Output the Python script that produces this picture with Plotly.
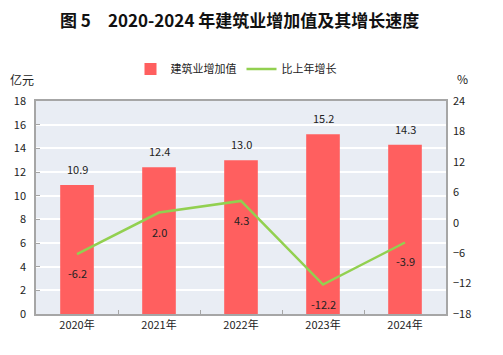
import plotly.graph_objects as go

years = ["2020年", "2021年", "2022年", "2023年", "2024年"]
value_added = [10.9, 12.4, 13.0, 15.2, 14.3]
growth = [-6.2, 2.0, 4.3, -12.2, -3.9]

FONT = "Noto Sans CJK SC"
OFF = 8  # page body margin offset
W, H = 503 - OFF, 355 - OFF
L, R, T, B = 36 - OFF, 57, 101 - OFF, 41
pw = W - L - R
ph = H - T - B


def px_x(px):
    return (px - OFF - L) / pw


def px_y(py):
    return (H - B - (py - OFF)) / ph


fig = go.Figure()
fig.add_trace(go.Bar(
    x=years, y=value_added, name="建筑业增加值",
    marker=dict(color="#ff5f5f", line=dict(width=0)),
    width=0.41,
))
fig.add_trace(go.Scatter(
    x=years, y=growth, name="比上年增长", yaxis="y2",
    mode="lines", line=dict(color="#92d050", width=2.5),
))

annotations = []
for yr, v in zip(years, value_added):
    annotations.append(dict(x=yr, y=v, xref="x", yref="y", text=f"{v:.1f}",
                            showarrow=False, yshift=16,
                            font=dict(size=11, color="#222222")))
for yr, v in zip(years, growth):
    annotations.append(dict(x=yr, y=v, xref="x", yref="y2", text=f"{v:.1f}",
                            showarrow=False, yshift=-19,
                            font=dict(size=11, color="#222222")))
annotations.append(dict(text="亿元", x=px_x(22), y=px_y(79), xref="paper", yref="paper",
                        xanchor="center", yanchor="middle",
                        showarrow=False, font=dict(size=12)))
annotations.append(dict(text="%", x=px_x(462), y=px_y(78), xref="paper", yref="paper",
                        xanchor="center", yanchor="middle",
                        showarrow=False, font=dict(size=12)))
annotations.append(dict(text="<b>图 5　2020-2024 年建筑业增加值及其增长速度</b>",
                        x=px_x(239), y=px_y(19), xref="paper", yref="paper",
                        xanchor="center", yanchor="middle", showarrow=False,
                        font=dict(size=17, color="#111111", family=FONT)))

fig.update_layout(
    width=W, height=H,
    margin=dict(l=L, r=R, t=T, b=B, autoexpand=False),
    paper_bgcolor="white", plot_bgcolor="#e9edf4",
    font=dict(family=FONT, size=11, color="#222222"),
    showlegend=True,
    legend=dict(orientation="h", x=px_x(236), xanchor="center", y=px_y(69), yanchor="middle",
                font=dict(size=11, family=FONT), bgcolor="rgba(0,0,0,0)"),
    xaxis=dict(showline=True, linecolor="#a6a6a6", linewidth=1.5, mirror=True,
               ticks="inside", tickson="boundaries", ticklen=4, tickcolor="#a6a6a6",
               tickfont=dict(size=11)),
    yaxis=dict(range=[0, 18], dtick=2, showgrid=True, gridcolor="white", gridwidth=1.5,
               showline=True, linecolor="#a6a6a6", linewidth=1.5, mirror=True,
               zeroline=False, ticks="inside", ticklen=4, tickcolor="#a6a6a6",
               tickfont=dict(size=11), ticklabelstandoff=6),
    yaxis2=dict(range=[-18, 24], dtick=6, overlaying="y", side="right",
                showgrid=False, zeroline=False, showline=False,
                tickfont=dict(size=11), ticklabelstandoff=6),
    annotations=annotations,
)

fig.write_html("out.html")
